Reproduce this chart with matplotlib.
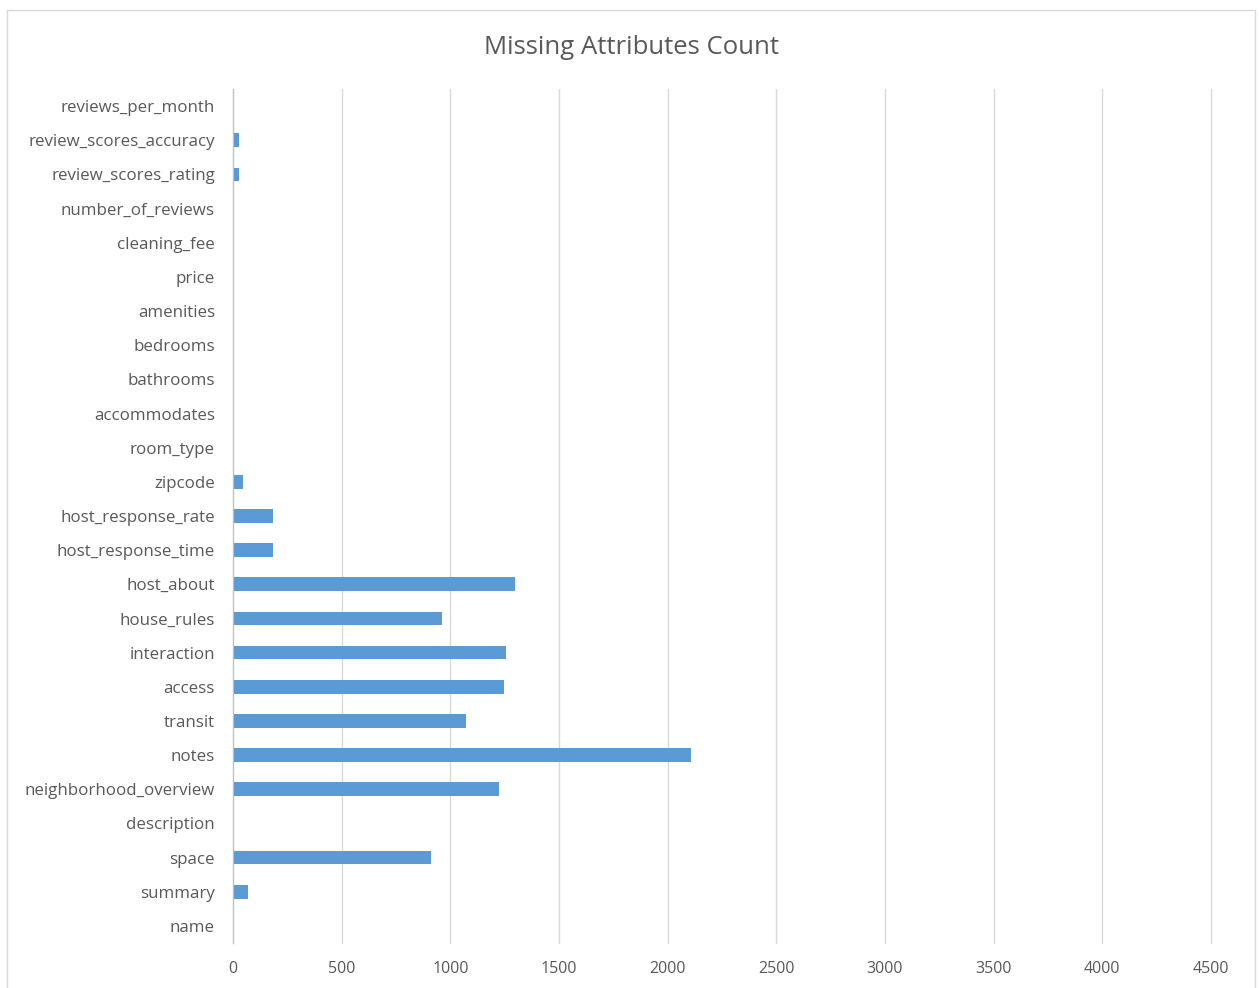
import matplotlib
matplotlib.use("Agg")
import matplotlib.pyplot as plt
from matplotlib.patches import Rectangle

categories = [
    "name", "summary", "space", "description", "neighborhood_overview",
    "notes", "transit", "access", "interaction", "house_rules",
    "host_about", "host_response_time", "host_response_rate", "zipcode",
    "room_type", "accommodates", "bathrooms", "bedrooms", "amenities",
    "price", "cleaning_fee", "number_of_reviews", "review_scores_rating",
    "review_scores_accuracy", "reviews_per_month",
]
missing = [
    0, 69, 911, 0, 1223,
    2107, 1074, 1245, 1258, 962,
    1297, 182, 182, 46,
    0, 0, 0, 0, 0,
    0, 0, 0, 26,
    26, 0,
]
x_ticks = [0, 500, 1000, 1500, 2000, 2500, 3000, 3500, 4000, 4500]

plt.rcParams["font.family"] = ["Open Sans", "DejaVu Sans"]

fig = plt.figure(figsize=(12.59, 9.88), dpi=100)
ax = fig.add_axes([233 / 1259, 1 - 943 / 988, (1211 - 233) / 1259, (943 - 89) / 988])

ypos = list(range(len(categories)))
ax.barh(ypos, missing, height=0.4, color="#5B9BD5", zorder=3)

ax.set_xlim(0, 4500)
ax.set_ylim(-0.5, len(categories) - 0.5)
ax.set_xticks(x_ticks)
ax.set_xticklabels([str(t) for t in x_ticks])
ax.set_yticks(ypos)
ax.set_yticklabels(categories)
ax.tick_params(axis="both", length=0, labelcolor="#595959")
ax.tick_params(axis="y", pad=13, labelsize=12.2)
ax.tick_params(axis="x", pad=13, labelsize=11.5)

ax.grid(axis="x", color="#D9D9D9", linewidth=1, zorder=0)
for gl in ax.get_xgridlines():
    gl.set_clip_on(False)
for side in ["top", "right", "bottom"]:
    ax.spines[side].set_visible(False)
ax.spines["left"].set_color("#BFBFBF")
ax.spines["left"].set_zorder(4)

fig.text(631 / 1259, 1 - 47 / 988, "Missing Attributes Count",
         ha="center", va="center", fontsize=18.5, color="#595959")

# chart frame
fig.patches.append(Rectangle((7 / 1259, -0.01), (1255 - 7) / 1259, (988 - 10) / 988 + 0.01,
                             transform=fig.transFigure, fill=False,
                             edgecolor="#D9D9D9", linewidth=1))

fig.savefig("out.png", dpi=100)
